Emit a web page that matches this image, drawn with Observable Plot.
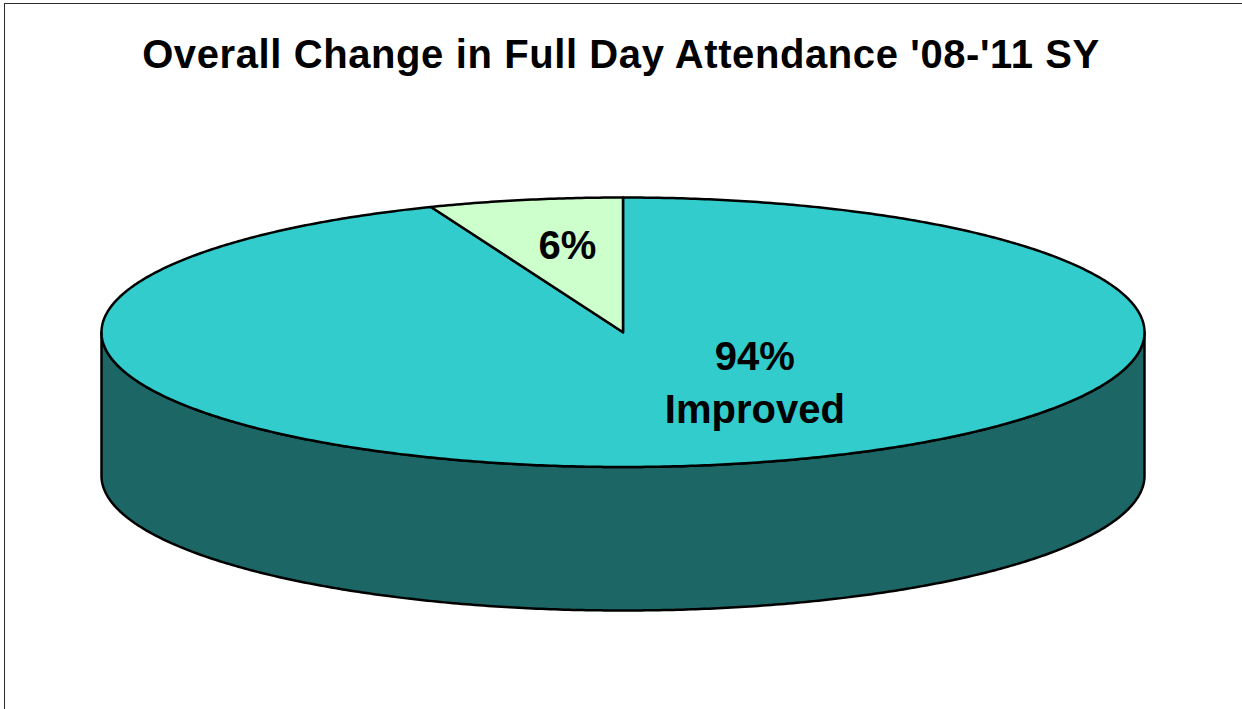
<!DOCTYPE html>
<html>
<head>
<meta charset="utf-8">
<script src="https://cdn.jsdelivr.net/npm/d3@7"></script>
<script src="https://cdn.jsdelivr.net/npm/@observablehq/plot@0.6"></script>
<style>
  html, body { margin: 0; padding: 0; background: #fff; overflow: hidden; }
  body { width: 1242px; height: 709px; position: relative; font-family: "Liberation Sans", Arial, sans-serif; }
  #frame { position: absolute; left: 4px; top: 3px; width: 2000px; height: 2000px;
           border-left: 1.5px solid #2a2a2a; border-top: 1.5px solid #2a2a2a; pointer-events: none; }
  #title { height: 100px; box-sizing: border-box; padding-top: 31px; text-align: center;
           font-size: 40px; font-weight: bold; color: #000; line-height: 46px; white-space: nowrap;
           letter-spacing: 0.6px; }
  #chart svg { display: block; }
</style>
</head>
<body>
<div id="frame"></div>
<div id="title">Overall Change in Full Day Attendance '08-'11 SY</div>
<div id="chart"></div>
<script>
// ---- data ----
const categories = ["Improved", "Not Improved"];
const values = [94, 6];
const labels = ["94%\nImproved", "6%"];
const topColors = ["#33CCCC", "#CCFFCC"];
const sideColors = ["#1C6666", "#669966"];

// ---- geometry (style constants) ----
const depth = 1.065;           // cylinder depth relative to ellipse semi-minor axis
const step = 0.5;              // degrees per polygon vertex
const labelPlace = [{dAngle: -25.2, r: 0.43}, {dAngle: 1.8, r: 0.68}];

const total = d3.sum(values);
const rad = a => a * Math.PI / 180;
let acc = 0;
const slices = values.map((v, i) => {
  const a0 = acc / total * 360;
  acc += v;
  const a1 = acc / total * 360;
  return {i, category: categories[i], value: v, a0, a1};
});

// top wedge polygons
function wedge(s) {
  const pts = [{x: 0, y: 0, i: s.i}];
  for (let t = s.a0; t < s.a1; t += step) pts.push({x: Math.sin(rad(t)), y: Math.cos(rad(t)), i: s.i});
  pts.push({x: Math.sin(rad(s.a1)), y: Math.cos(rad(s.a1)), i: s.i});
  return pts;
}
// front side wall, for the part of each slice that lies on the front (90..270 deg)
function side(s) {
  const lo = Math.max(s.a0, 90), hi = Math.min(s.a1, 270);
  if (hi <= lo) return [];
  const pts = [];
  for (let t = lo; t < hi; t += step) pts.push({x: Math.sin(rad(t)), y: Math.cos(rad(t)), i: s.i});
  pts.push({x: Math.sin(rad(hi)), y: Math.cos(rad(hi)), i: s.i});
  for (let t = hi; t > lo; t -= step) pts.push({x: Math.sin(rad(t)), y: Math.cos(rad(t)) - depth, i: s.i});
  pts.push({x: Math.sin(rad(lo)), y: Math.cos(rad(lo)) - depth, i: s.i});
  return pts;
}

const labelData = slices.map((s, k) => {
  const mid = (s.a0 + s.a1) / 2 + labelPlace[k].dAngle;
  const r = labelPlace[k].r;
  return {x: r * Math.sin(rad(mid)), y: r * Math.cos(rad(mid)), text: labels[k]};
});

const marks = [];
slices.forEach(s => {
  const pts = side(s);
  if (pts.length) marks.push(Plot.line(pts, {x: "x", y: "y", curve: "linear-closed",
    fill: sideColors[s.i], stroke: "#000", strokeWidth: 2.5, strokeLinejoin: "round"}));
});
slices.forEach(s => {
  marks.push(Plot.line(wedge(s), {x: "x", y: "y", curve: "linear-closed",
    fill: topColors[s.i], stroke: "#000", strokeWidth: 2.5, strokeLinejoin: "round"}));
});
marks.push(Plot.text(labelData, {x: "x", y: "y", text: "text", fontSize: 40, fontWeight: "bold",
  fill: "#000", lineHeight: 1.33, textAnchor: "middle", lineAnchor: "middle",
  fontFamily: "Liberation Sans, Arial, sans-serif"}));

const chart = Plot.plot({
  width: 1242,
  height: 609,
  marginLeft: 101,
  marginRight: 98,
  marginTop: 97,
  marginBottom: 99,
  x: {domain: [-1, 1], axis: null},
  y: {domain: [-1 - depth, 1], axis: null},
  style: {background: "transparent", overflow: "visible"},
  marks
});
document.getElementById("chart").appendChild(chart);
</script>
</body>
</html>
